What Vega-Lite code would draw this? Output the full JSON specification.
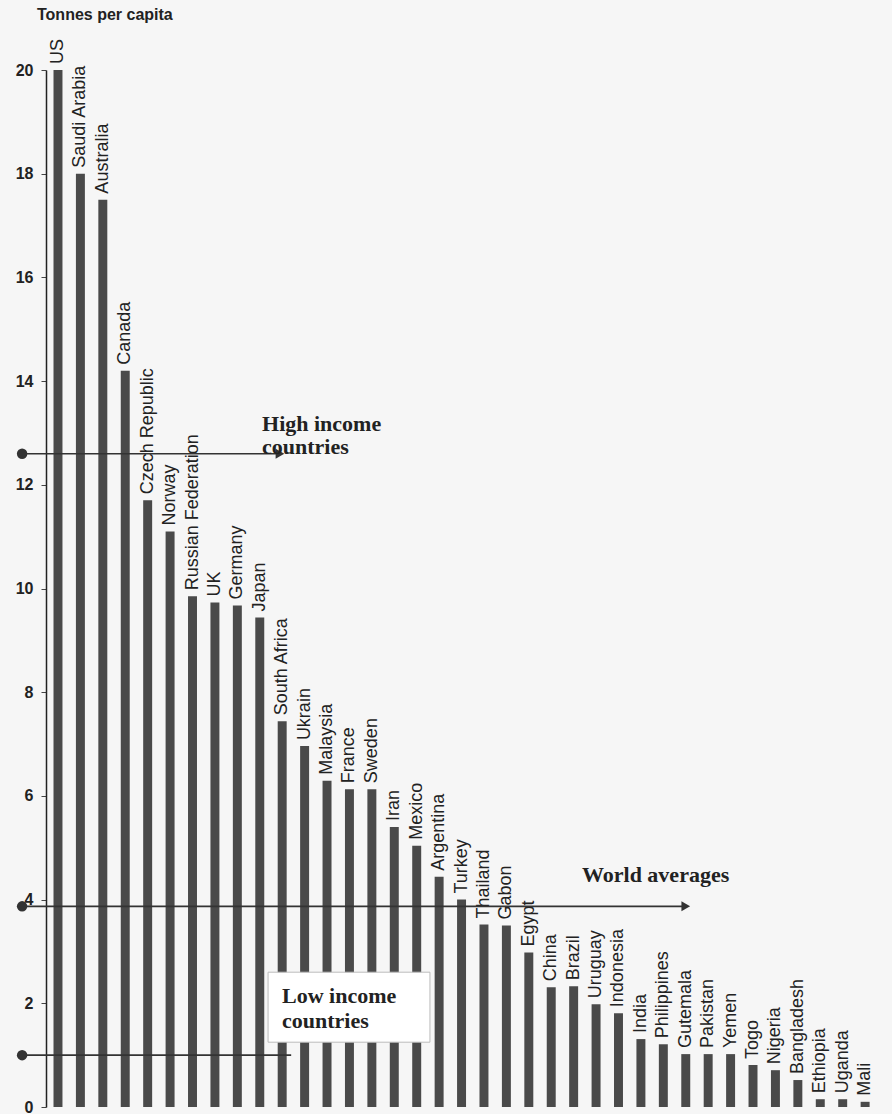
{
  "$schema": "https://vega.github.io/schema/vega-lite/v6.json",
  "width": 834,
  "height": 1037,
  "autosize": "none",
  "padding": {"left": 46, "top": 70, "right": 12, "bottom": 7},
  "background": "#f6f6f6",
  "config": {"view": {"stroke": null}},
  "title": {"text": "Tonnes per capita", "anchor": "start", "frame": "group", "dx": -9, "offset": 0, "baseline": "bottom", "fontSize": 16, "font": "Liberation Sans", "fontWeight": "bold", "color": "#222"},
  "datasets": {
    "emissions": [
      {"country": "US", "tonnes": 20.0},
      {"country": "Saudi Arabia", "tonnes": 18.0},
      {"country": "Australia", "tonnes": 17.5},
      {"country": "Canada", "tonnes": 14.2},
      {"country": "Czech Republic", "tonnes": 11.7},
      {"country": "Norway", "tonnes": 11.1},
      {"country": "Russian Federation", "tonnes": 9.85},
      {"country": "UK", "tonnes": 9.73},
      {"country": "Germany", "tonnes": 9.67},
      {"country": "Japan", "tonnes": 9.44},
      {"country": "South Africa", "tonnes": 7.44},
      {"country": "Ukrain", "tonnes": 6.96},
      {"country": "Malaysia", "tonnes": 6.29},
      {"country": "France", "tonnes": 6.13},
      {"country": "Sweden", "tonnes": 6.13},
      {"country": "Iran", "tonnes": 5.4},
      {"country": "Mexico", "tonnes": 5.04},
      {"country": "Argentina", "tonnes": 4.44},
      {"country": "Turkey", "tonnes": 4.0},
      {"country": "Thailand", "tonnes": 3.52},
      {"country": "Gabon", "tonnes": 3.5},
      {"country": "Egypt", "tonnes": 2.98},
      {"country": "China", "tonnes": 2.31},
      {"country": "Brazil", "tonnes": 2.33},
      {"country": "Uruguay", "tonnes": 1.98},
      {"country": "Indonesia", "tonnes": 1.81},
      {"country": "India", "tonnes": 1.31},
      {"country": "Philippines", "tonnes": 1.21},
      {"country": "Gutemala", "tonnes": 1.02},
      {"country": "Pakistan", "tonnes": 1.02},
      {"country": "Yemen", "tonnes": 1.02},
      {"country": "Togo", "tonnes": 0.81},
      {"country": "Nigeria", "tonnes": 0.71},
      {"country": "Bangladesh", "tonnes": 0.52},
      {"country": "Ethiopia", "tonnes": 0.15},
      {"country": "Uganda", "tonnes": 0.15},
      {"country": "Mali", "tonnes": 0.1}
    ],
    "arrows": [
      {"group": "High income", "level": 12.6, "start": -1.6, "end": 9.9, "head": true},
      {"group": "World average", "level": 3.87, "start": -1.6, "end": 28.0, "head": true},
      {"group": "Low income", "level": 1.0, "start": -1.6, "end": 10.4, "head": false}
    ],
    "box": [
      {"x0": 9.37, "x1": 16.59, "top": 2.6, "bottom": 1.25}
    ],
    "notes": [
      {"text": "High income", "pos": 9.1, "level": 13.17},
      {"text": "countries", "pos": 9.1, "level": 12.73},
      {"text": "World averages", "pos": 23.37, "level": 4.48},
      {"text": "Low income", "pos": 9.99, "level": 2.15},
      {"text": "countries", "pos": 9.99, "level": 1.65}
    ]
  },
  "layer": [
    {
      "data": {"name": "emissions"},
      "encoding": {
        "x": {"field": "country", "type": "nominal", "sort": null, "scale": {"range": [7.5, 823.6], "paddingInner": 0.6, "paddingOuter": 0}, "axis": null},
        "y": {"field": "tonnes", "type": "quantitative", "scale": {"domain": [0, 20], "nice": false},
              "axis": {"title": null, "values": [0, 2, 4, 6, 8, 10, 12, 14, 16, 18, 20], "grid": false, "domainColor": "#222", "domainWidth": 1.5, "tickColor": "#444", "tickSize": 5, "labelPadding": 8, "labelFont": "Liberation Sans", "labelFontSize": 16, "labelFontWeight": "bold", "labelColor": "#222"}}
      },
      "layer": [
        {"mark": {"type": "bar", "color": "#4a4a4a"}},
        {"mark": {"type": "text", "angle": 270, "align": "left", "baseline": "middle", "dx": 6, "font": "Liberation Sans", "fontSize": 18, "color": "#222"},
         "encoding": {"text": {"field": "country"}}}
      ]
    },
    {
      "data": {"name": "arrows"},
      "encoding": {
        "y": {"field": "level", "type": "quantitative", "title": null}
      },
      "layer": [
        {"mark": {"type": "rule", "color": "#333", "strokeWidth": 1.6},
         "encoding": {
           "x": {"field": "start", "type": "quantitative", "scale": {"domain": [-0.535, 36.663], "nice": false, "zero": false}, "axis": null},
           "x2": {"field": "end"}
         }},
        {"mark": {"type": "point", "shape": "circle", "filled": true, "size": 110, "color": "#333", "opacity": 1},
         "encoding": {
           "x": {"field": "start", "type": "quantitative", "scale": {"domain": [-0.535, 36.663], "nice": false, "zero": false}, "axis": null}
         }},
        {"transform": [{"filter": "datum.head"}],
         "mark": {"type": "point", "shape": "triangle-right", "filled": true, "size": 100, "color": "#333", "opacity": 1},
         "encoding": {
           "x": {"field": "end", "type": "quantitative", "scale": {"domain": [-0.535, 36.663], "nice": false, "zero": false}, "axis": null}
         }}
      ]
    },
    {
      "data": {"name": "box"},
      "mark": {"type": "rect", "fill": "#ffffff", "stroke": "#bbbbbb", "strokeWidth": 1},
      "encoding": {
        "x": {"field": "x0", "type": "quantitative", "scale": {"domain": [-0.535, 36.663], "nice": false, "zero": false}, "axis": null},
        "x2": {"field": "x1"},
        "y": {"field": "top", "type": "quantitative", "title": null},
        "y2": {"field": "bottom"}
      }
    },
    {
      "data": {"name": "notes"},
      "mark": {"type": "text", "align": "left", "baseline": "middle", "font": "Liberation Serif", "fontWeight": "bold", "fontSize": 22, "color": "#222"},
      "encoding": {
        "x": {"field": "pos", "type": "quantitative", "scale": {"domain": [-0.535, 36.663], "nice": false, "zero": false}, "axis": null},
        "y": {"field": "level", "type": "quantitative", "title": null},
        "text": {"field": "text"}
      }
    }
  ],
  "resolve": {"scale": {"x": "independent", "y": "shared"}}
}
